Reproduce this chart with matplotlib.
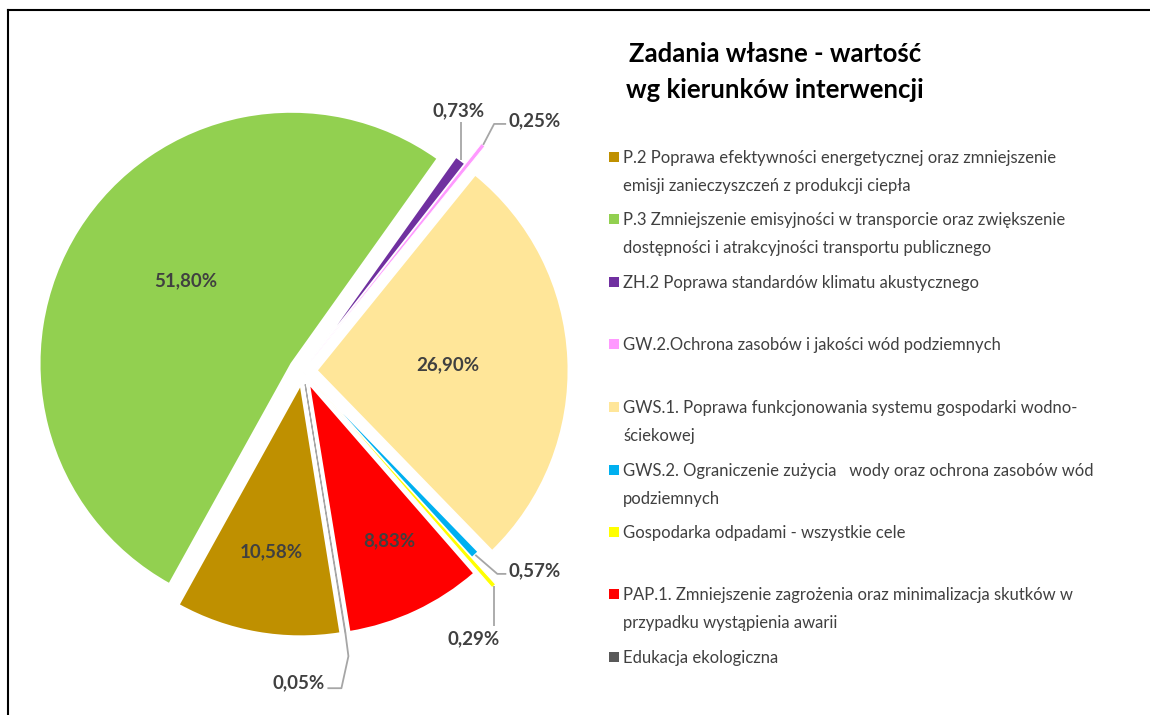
import numpy as np
import matplotlib.pyplot as plt
from matplotlib.patches import Rectangle
from matplotlib.lines import Line2D

categories = [
    "P.2 Poprawa efektywności energetycznej oraz zmniejszenie\nemisji zanieczyszczeń z produkcji ciepła",
    "P.3 Zmniejszenie emisyjności w transporcie oraz zwiększenie\ndostępności i atrakcyjności transportu publicznego",
    "ZH.2 Poprawa standardów klimatu akustycznego",
    "GW.2.Ochrona zasobów i jakości wód podziemnych",
    "GWS.1. Poprawa funkcjonowania systemu gospodarki wodno-\nściekowej",
    "GWS.2. Ograniczenie zużycia   wody oraz ochrona zasobów wód\npodziemnych",
    "Gospodarka odpadami - wszystkie cele",
    "PAP.1. Zmniejszenie zagrożenia oraz minimalizacja skutków w\nprzypadku wystąpienia awarii",
    "Edukacja ekologiczna",
]
shares = [10.58, 51.80, 0.73, 0.25, 26.90, 0.57, 0.29, 8.83, 0.05]
colors = ["#BF9000", "#92D050", "#7030A0", "#FF99FF", "#FFE699",
          "#00B0F0", "#FFFF00", "#FF0000", "#595959"]
title = "Zadania własne - wartość\nwg kierunków interwencji"

W, H = 1150, 715
R = 252
cx, cy = 303, H - 371
explode_frac = [0.054, 0.054, 0.045, 0.045, 0.054, 0.0, 0.054, 0.054, 0.054]
radius_frac = [1, 1, 1, 1.102, 1, 1, 1.087, 1, 1]

plt.rcParams['font.family'] = ['Lato', 'DejaVu Sans']
txt_col = '#404040'

fig = plt.figure(figsize=(W / 100, H / 100), dpi=100)
ax = fig.add_axes([0, 0, 1, 1])

wedges, _ = ax.pie(shares, explode=[f * R for f in explode_frac], colors=colors,
                   radius=R, center=(cx, cy), startangle=90 - 170.9,
                   counterclock=False,
                   wedgeprops=dict(edgecolor='white', linewidth=1.5))
for w, rf in zip(wedges, radius_frac):
    w.set_radius(R * rf)
wedges[3].set_linewidth(0.6)
wedges[6].set_linewidth(0.8)
wedges[-1].set_edgecolor('#a6a6a6')
wedges[-1].set_linewidth(0.8)

ax.set_xlim(0, W)
ax.set_ylim(0, H)
ax.set_aspect('equal')
ax.axis('off')


def pct(v):
    return f"{v:.2f}".replace('.', ',') + '%'


def mid_angle(w):
    return (w.theta1 + w.theta2) / 2


# labels inside the big slices: (distance as fraction of radius, angle shift)
inner = {1: (0.535, -6), 4: (0.52, 0), 0: (0.676, 0), 7: (0.704, 2)}
for i, (frac, dth) in inner.items():
    w = wedges[i]
    t = np.deg2rad(mid_angle(w) + dth)
    ax.text(w.center[0] + frac * w.r * np.cos(t), w.center[1] + frac * w.r * np.sin(t),
            pct(shares[i]), ha='center', va='center', fontsize=13.5,
            fontweight='bold', color=txt_col)

# small slices: leader path (pixel offsets, y down), label offset, alignment
outer = {
    2: ([(0, 0), (0, -38)], (-2, -49), 'center'),
    3: ([(0, 0), (11, -21), (23, -21)], (25, -24), 'left'),
    5: ([(0, 0), (22, 19), (31, 19)], (33, 16), 'left'),
    6: ([(0, 0), (0, 40)], (-20, 53), 'center'),
    8: ([(0, 0), (3, 23), (-4, 55), (-18, 55)], (-21, 50), 'right'),
}
for i, (path, (lx, ly), ha) in outer.items():
    w = wedges[i]
    t = np.deg2rad(mid_angle(w))
    x0 = w.center[0] + w.r * np.cos(t)
    y0 = w.center[1] + w.r * np.sin(t)
    ax.plot([x0 + dx for dx, dy in path], [y0 - dy for dx, dy in path],
            color='#a6a6a6', lw=1.3, solid_capstyle='butt')
    ax.text(x0 + lx, y0 - ly, pct(shares[i]), ha=ha, va='center', fontsize=13.5,
            fontweight='bold', color=txt_col)

# title
ax.text(775, H - 72, title, ha='center', va='center', fontsize=18.5,
        fontweight='bold', color='black', linespacing=1.6)

# legend, evenly spaced entries
leg_y = [157, 219, 282, 344, 407, 470, 532, 594, 657]
for lab, col, y in zip(categories, colors, leg_y):
    ax.add_patch(Rectangle((609, H - y - 5), 10, 10, facecolor=col, edgecolor='none'))
    ax.text(623, H - y + 7, lab, ha='left', va='top', fontsize=12,
            color=txt_col, linespacing=1.95)

# frame lines (top and left)
fig.add_artist(Line2D([7.5 / W, 1], [1 - 9.5 / H, 1 - 9.5 / H], color='black', lw=1.5))
fig.add_artist(Line2D([7.5 / W, 7.5 / W], [0, 1 - 9.5 / H], color='black', lw=1.5))

fig.savefig('out.png', dpi=100)
